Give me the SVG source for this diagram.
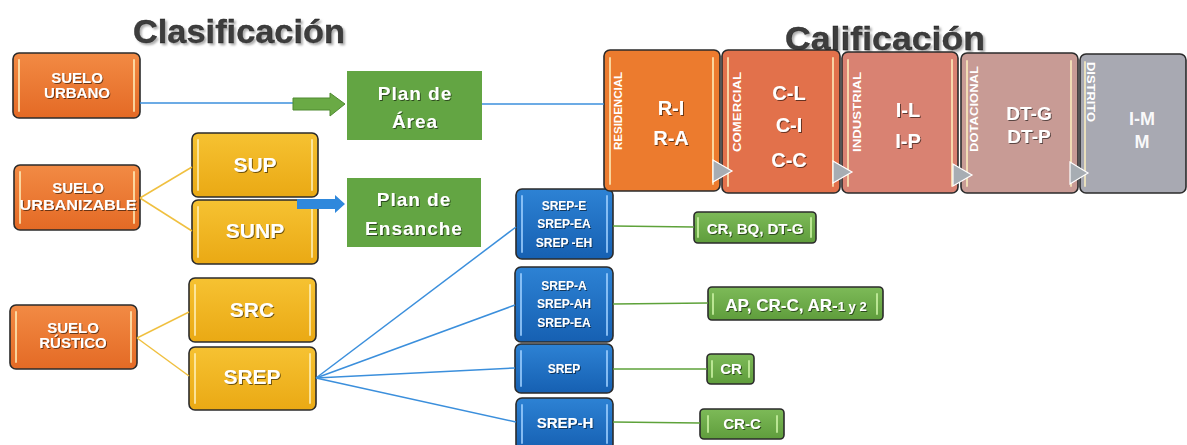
<svg xmlns="http://www.w3.org/2000/svg" width="1187" height="445" viewBox="0 0 1187 445">
<style>
.t{font-family:"Liberation Sans",Arial,sans-serif;font-weight:bold;fill:#fff;text-anchor:middle}
.box{stroke:#2b2b2b;stroke-width:1.6}
.gl{stroke:#fff3c0;stroke-opacity:0.75;stroke-width:2;stroke-linecap:round;fill:none}
.glb{stroke:#9fd0ff;stroke-opacity:0.8;stroke-width:2;stroke-linecap:round;fill:none}
.glg{stroke:#c8f0a0;stroke-opacity:0.85;stroke-width:2;stroke-linecap:round;fill:none}
.title{font-family:"Liberation Sans",Arial,sans-serif;font-weight:bold;font-size:34px;fill:#3c3c3c;stroke:#1a1a1a;stroke-width:0.4}
.vl{font-family:"Liberation Sans",Arial,sans-serif;font-weight:bold;font-size:10px;fill:#fff}
.bl{stroke:#3b8fdc;stroke-width:1.5;fill:none}
.yl{stroke:#f0c040;stroke-width:1.5;fill:none}
.gr{stroke:#5ea23a;stroke-width:1.5;fill:none}
.tri{fill:#a7adb3;stroke:#ffffff;stroke-width:1.2}
</style>
<defs>
<linearGradient id="gO" x1="0" y1="0" x2="0" y2="1"><stop offset="0" stop-color="#f28a44"/><stop offset="1" stop-color="#e46a25"/></linearGradient>
<linearGradient id="gY" x1="0" y1="0" x2="0" y2="1"><stop offset="0" stop-color="#f6c232"/><stop offset="1" stop-color="#eaa914"/></linearGradient>
<linearGradient id="gB" x1="0" y1="0" x2="0" y2="1"><stop offset="0" stop-color="#2d82d4"/><stop offset="1" stop-color="#1660b2"/></linearGradient>
<linearGradient id="gG" x1="0" y1="0" x2="0" y2="1"><stop offset="0" stop-color="#7dba58"/><stop offset="1" stop-color="#5f9d3c"/></linearGradient>
<filter id="ts" x="-20%" y="-20%" width="140%" height="140%"><feDropShadow dx="1" dy="1" stdDeviation="0.6" flood-color="#000" flood-opacity="0.55"/></filter>
<filter id="tts" x="-10%" y="-20%" width="120%" height="150%"><feDropShadow dx="2" dy="2" stdDeviation="1" flood-color="#999" flood-opacity="0.8"/></filter>
</defs>

<text class="title" x="133" y="43" textLength="212" lengthAdjust="spacingAndGlyphs" filter="url(#tts)">Clasificación</text>
<text class="title" x="785" y="50" textLength="200" lengthAdjust="spacingAndGlyphs" filter="url(#tts)">Calificación</text>

<g id="suelo-urbano">
<rect class="box" x="13" y="53" width="127" height="65" rx="6" fill="url(#gO)"/>
<path class="gl" d="M19,60 V111 M134,60 V111"/>
<text class="t" font-size="15" filter="url(#ts)"><tspan x="77" y="83">SUELO</tspan><tspan x="77" y="98">URBANO</tspan></text>
</g>
<g id="suelo-urbanizable">
<rect class="box" x="14" y="165" width="126" height="65" rx="6" fill="url(#gO)"/>
<path class="gl" d="M20,172 V223 M134,172 V223"/>
<text class="t" font-size="15" filter="url(#ts)"><tspan x="78" y="193">SUELO</tspan><tspan x="78" y="210" textLength="117" lengthAdjust="spacingAndGlyphs">URBANIZABLE</tspan></text>
</g>
<g id="suelo-rustico">
<rect class="box" x="10" y="305" width="127" height="64" rx="6" fill="url(#gO)"/>
<path class="gl" d="M16,312 V362 M131,312 V362"/>
<text class="t" font-size="15" filter="url(#ts)"><tspan x="73" y="333">SUELO</tspan><tspan x="73" y="348">RÚSTICO</tspan></text>
</g>

<g id="sup">
<rect class="box" x="192" y="133" width="126" height="64" rx="6" fill="url(#gY)"/>
<path class="gl" d="M198,140 V190 M312,140 V190"/>
<text class="t" x="255" y="172" font-size="21" filter="url(#ts)">SUP</text>
</g>
<g id="sunp">
<rect class="box" x="192" y="200" width="126" height="64" rx="6" fill="url(#gY)"/>
<path class="gl" d="M198,207 V257 M312,207 V257"/>
<text class="t" x="255" y="238" font-size="21" filter="url(#ts)">SUNP</text>
</g>
<g id="src">
<rect class="box" x="189" y="278" width="127" height="64" rx="6" fill="url(#gY)"/>
<path class="gl" d="M195,285 V335 M310,285 V335"/>
<text class="t" x="252" y="317" font-size="21" filter="url(#ts)">SRC</text>
</g>
<g id="srep">
<rect class="box" x="189" y="347" width="127" height="63" rx="6" fill="url(#gY)"/>
<path class="gl" d="M195,354 V403 M310,354 V403"/>
<text class="t" x="252" y="384" font-size="21" filter="url(#ts)">SREP</text>
</g>

<g id="plan-area">
<rect x="347" y="71" width="135" height="69" fill="#63a543"/>
<text class="t" font-size="19" letter-spacing="1" filter="url(#ts)"><tspan x="415" y="100">Plan de</tspan><tspan x="415" y="128">Área</tspan></text>
</g>
<g id="plan-ensanche">
<rect x="347" y="178" width="134" height="69" fill="#63a543"/>
<text class="t" font-size="19" letter-spacing="1" filter="url(#ts)"><tspan x="414" y="206">Plan de</tspan><tspan x="414" y="235">Ensanche</tspan></text>
</g>

<g id="srep-e">
<rect class="box" x="516" y="189" width="97" height="70" rx="6" fill="url(#gB)"/>
<path class="glb" d="M522,196 V252 M607,196 V252"/>
<text class="t" font-size="12" filter="url(#ts)"><tspan x="564" y="210">SREP-E</tspan><tspan x="564" y="228">SREP-EA</tspan><tspan x="564" y="247">SREP -EH</tspan></text>
</g>
<g id="srep-a">
<rect class="box" x="515" y="267" width="98" height="75" rx="6" fill="url(#gB)"/>
<path class="glb" d="M521,274 V335 M607,274 V335"/>
<text class="t" font-size="12" filter="url(#ts)"><tspan x="564" y="290">SREP-A</tspan><tspan x="564" y="308">SREP-AH</tspan><tspan x="564" y="327">SREP-EA</tspan></text>
</g>
<g id="srep-b">
<rect class="box" x="515" y="344" width="98" height="49" rx="6" fill="url(#gB)"/>
<path class="glb" d="M521,351 V386 M607,351 V386"/>
<text class="t" x="564" y="373" font-size="12" filter="url(#ts)">SREP</text>
</g>
<g id="srep-h">
<rect class="box" x="516" y="398" width="97" height="52" rx="6" fill="url(#gB)"/>
<path class="glb" d="M522,405 V443 M607,405 V443"/>
<text class="t" x="565" y="428" font-size="15" filter="url(#ts)">SREP-H</text>
</g>

<g id="lbl-1">
<rect class="box" x="694" y="212" width="122" height="31" rx="4" fill="url(#gG)"/>
<path class="glg" d="M698,218 V237 M811,218 V237"/>
<text class="t" x="755" y="234" font-size="15" filter="url(#ts)">CR, BQ, DT-G</text>
</g>
<g id="lbl-2">
<rect class="box" x="708" y="287" width="175" height="33" rx="4" fill="url(#gG)"/>
<path class="glg" d="M713,294 V314 M877,294 V314"/>
<text class="t" x="796" y="311" font-size="17" filter="url(#ts)">AP, CR-C, AR-<tspan font-size="13">1 y 2</tspan></text>
</g>
<g id="lbl-3">
<rect class="box" x="707" y="354" width="47" height="30" rx="4" fill="url(#gG)"/>
<path class="glg" d="M712,361 V377 M749,361 V377"/>
<text class="t" x="731" y="374" font-size="15" filter="url(#ts)">CR</text>
</g>
<g id="lbl-4">
<rect class="box" x="700" y="409" width="84" height="30" rx="4" fill="url(#gG)"/>
<path class="glg" d="M708,416 V432 M777,416 V432"/>
<text class="t" x="742" y="429" font-size="15" filter="url(#ts)">CR-C</text>
</g>

<g id="residencial">
<rect class="box" x="604" y="50" width="116" height="141" rx="6" fill="#ec7b2e"/>
<path class="gl" d="M610,58 V184 M713,58 V184"/>
<text class="vl" transform="translate(622,150) rotate(-90)" textLength="78" lengthAdjust="spacingAndGlyphs">RESIDENCIAL</text>
<text class="t" font-size="20" filter="url(#ts)"><tspan x="671" y="115">R-I</tspan><tspan x="671" y="145">R-A</tspan></text>
</g>
<g id="comercial">
<rect class="box" x="722" y="50" width="118" height="143" rx="6" fill="#e2714b"/>
<path class="gl" d="M728,58 V186 M833,58 V186"/>
<text class="vl" transform="translate(741,152) rotate(-90)" textLength="80" lengthAdjust="spacingAndGlyphs">COMERCIAL</text>
<text class="t" font-size="20" filter="url(#ts)"><tspan x="789" y="100">C-L</tspan><tspan x="789" y="132">C-I</tspan><tspan x="789" y="167">C-C</tspan></text>
</g>
<g id="industrial">
<rect class="box" x="842" y="52" width="116" height="141" rx="6" fill="#d98272"/>
<path class="gl" d="M848,60 V186 M952,60 V186"/>
<text class="vl" transform="translate(861,152) rotate(-90)" textLength="80" lengthAdjust="spacingAndGlyphs">INDUSTRIAL</text>
<text class="t" font-size="20" filter="url(#ts)"><tspan x="908" y="117">I-L</tspan><tspan x="908" y="148">I-P</tspan></text>
</g>
<g id="dotacional">
<rect class="box" x="961" y="53" width="117" height="140" rx="6" fill="#c89b95"/>
<path class="gl" d="M967,61 V186 M1071,61 V186"/>
<text class="vl" transform="translate(978,152) rotate(-90)" textLength="86" lengthAdjust="spacingAndGlyphs">DOTACIONAL</text>
<text class="t" font-size="19" filter="url(#ts)"><tspan x="1029" y="120">DT-G</tspan><tspan x="1029" y="143">DT-P</tspan></text>
</g>
<g id="distrito">
<rect class="box" x="1080" y="54" width="106" height="139" rx="6" fill="#a8a9b2"/>
<path class="gl" d="M1085,62 V186"/>
<text class="vl" transform="translate(1087,62) rotate(90)" textLength="60" lengthAdjust="spacingAndGlyphs">DISTRITO</text>
<text class="t" font-size="18" fill-opacity="0.95"><tspan x="1142" y="125">I-M</tspan><tspan x="1142" y="148">M</tspan></text>
</g>

<g id="connectors">
<line class="bl" x1="140" y1="103" x2="294" y2="103"/>
<line class="bl" x1="482" y1="104" x2="604" y2="104"/>
<line class="yl" x1="140" y1="198" x2="192" y2="167"/>
<line class="yl" x1="140" y1="198" x2="192" y2="231"/>
<line class="yl" x1="137" y1="338" x2="189" y2="312"/>
<line class="yl" x1="137" y1="338" x2="189" y2="376"/>
<line class="bl" x1="316" y1="378" x2="516" y2="227"/>
<line class="bl" x1="316" y1="378" x2="515" y2="305"/>
<line class="bl" x1="316" y1="378" x2="515" y2="368"/>
<line class="bl" x1="316" y1="378" x2="516" y2="422"/>
<line class="gr" x1="613" y1="226" x2="694" y2="227"/>
<line class="gr" x1="613" y1="304" x2="708" y2="303"/>
<line class="gr" x1="613" y1="369" x2="707" y2="369"/>
<line class="gr" x1="613" y1="422" x2="700" y2="423"/>
<polygon points="293,98 330,98 330,93 345,104 330,116 330,110 293,110" fill="#6aaa45" stroke="#4e8a30" stroke-width="1"/>
<polygon points="297,199 335,199 335,195 345,204 335,213 335,209 297,209" fill="#2f88dc"/>
</g>

<g id="markers">
<polygon class="tri" points="713,160 732,171 713,182"/>
<polygon class="tri" points="833,161 852,172 833,183"/>
<polygon class="tri" points="953,164 972,175 953,186"/>
<polygon class="tri" points="1070,162 1088,173 1070,184"/>
</g>
</svg>
